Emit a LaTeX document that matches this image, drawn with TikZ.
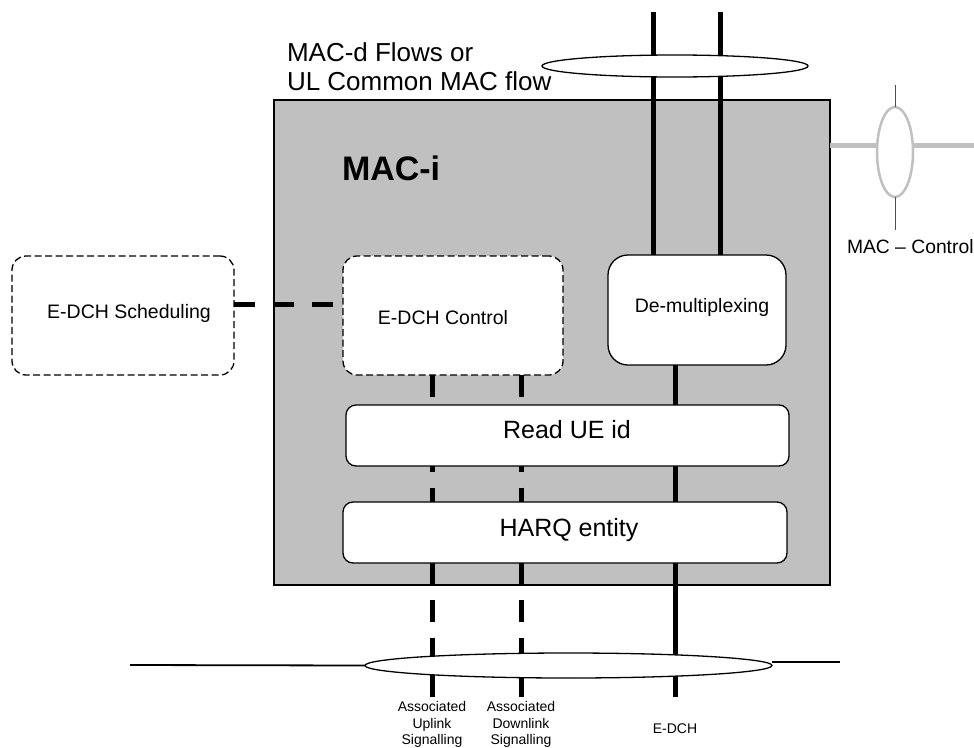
\documentclass[tikz,border=0pt]{standalone}
\usepackage{fontspec}
\setmainfont{Liberation Sans}
\usetikzlibrary{shapes.geometric}
\definecolor{macgray}{HTML}{C0C0C0}
\definecolor{thingray}{HTML}{4D4D4D}
\begin{document}
\begin{tikzpicture}[x=1pt,y=-1pt,
  every node/.style={inner sep=0pt, outer sep=0pt},
  whitebox/.style={draw=black, line width=1.3pt, fill=white, rounded corners=#1},
  dashbox/.style={draw=black, line width=1.3pt, fill=white, rounded corners=14pt, dash pattern=on 7pt off 3.5pt},
  thickline/.style={line width=5pt},
  thickdash/.style={line width=5pt, dash pattern=on 22pt off 15.5pt},
  flowell/.style={draw=black, line width=1.3pt, fill=white, ellipse},
  fs/.style={font=\fontsize{#1}{#1}\selectfont},
]
\useasboundingbox (0,0) rectangle (974,747);
\clip (0,0) rectangle (974,747);

% MAC-i main box
\node[draw=black, line width=1.2pt, fill=macgray, minimum width=556pt, minimum height=485pt, anchor=north west] (maci) at (274,100) {};
\node[font=\bfseries\fontsize{34}{34}\selectfont, anchor=base west] (macititle) at (342,180) {MAC-i};

% top flow text
\node[font=\fontsize{26}{29}\selectfont, align=left, anchor=north west] (flowtext) at (287,43) {MAC-d Flows or\\UL Common MAC flow};

% boxes
\node[dashbox, minimum width=222pt, minimum height=119pt] (sched) at (123,315.5) {};
\node[fs=19.5, anchor=base] (schedtext) at (129,318) {E-DCH Scheduling};
\node[dashbox, minimum width=220pt, minimum height=119pt] (control) at (453,315.5) {};
\node[fs=19.5, anchor=base] (controltext) at (443,324) {E-DCH Control};
\node[whitebox=20pt, minimum width=178pt, minimum height=110pt] (demux) at (697,310) {};
\node[fs=19.5, anchor=base] (demuxtext) at (702,312) {De-multiplexing};

% scheduling connector
\coordinate (schedy) at (0,304);
\draw[thickdash, dash pattern=on 21pt off 18pt] (sched.east |- schedy) -- (control.west |- schedy);

% top flows
\coordinate (tl1) at (653,12);
\coordinate (tl2) at (720,12);
\draw[thickline] (tl1) -- (tl1 |- demux.north);
\draw[thickline] (tl2) -- (tl2 |- demux.north);
\node[flowell, minimum width=266pt, minimum height=22pt] (topell) at (675,66) {};

% lower channels
\coordinate (ulend) at (432,700);
\coordinate (dlend) at (521,700);
\coordinate (edchend) at (675,697);
\draw[thickdash] (control.south -| ulend) -- (ulend);
\draw[thickdash] (control.south -| dlend) -- (dlend);
\draw[thickline] (demux.south -| edchend) -- (edchend);

\node[whitebox=10pt, minimum width=443pt, minimum height=61pt] (readue) at (567.5,435.5) {};
\node[fs=25, anchor=base] (readuetext) at (567,438) {Read UE id};
\node[whitebox=10pt, minimum width=444pt, minimum height=61pt] (harq) at (565,532.5) {};
\node[fs=25, anchor=base] (harqtext) at (569,536) {HARQ entity};

% bottom ellipse and lines
\node[flowell, minimum width=407pt, minimum height=25pt] (botell) at (568.5,665.5) {};
\coordinate (botleft) at (130,665);
\coordinate (botright) at (840,662);
\draw[line width=1.8pt] (botleft) -- (botell.west);
\draw[line width=1.8pt] (botell.east |- botright) -- (botright);

% MAC control
\coordinate (ctlend) at (974,145);
\draw[macgray, line width=5pt] (maci.east |- ctlend) -- (ctlend);
\node[draw=macgray, fill=white, line width=2.5pt, ellipse, minimum width=36pt, minimum height=90pt] (ctlell) at (895,152) {};
\coordinate (ctltop) at (895,85);
\coordinate (ctlbot) at (895,230);
\draw[thingray, line width=1pt] (ctltop) -- (ctlell.north);
\draw[thingray, line width=1pt] (ctlell.south) -- (ctlbot);
\node[fs=19.3, anchor=base west] (ctltext) at (847,253) {MAC -- Control};

% bottom labels
\node[font=\fontsize{14}{16.5}\selectfont, align=center, anchor=north] (ullabel) at (432,701.5) {Associated\\Uplink\\Signalling};
\node[font=\fontsize{14}{16.5}\selectfont, align=center, anchor=north] (dllabel) at (521,701.5) {Associated\\Downlink\\Signalling};
\node[fs=14, anchor=base] (edchlabel) at (675,733) {E-DCH};
\end{tikzpicture}
\end{document}
